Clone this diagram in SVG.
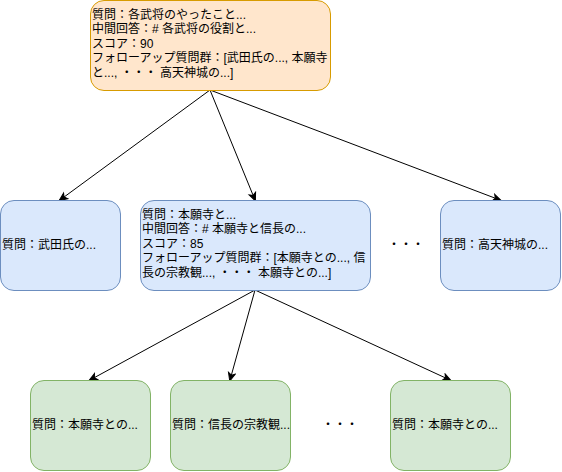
<svg xmlns="http://www.w3.org/2000/svg" width="562" height="472" viewBox="0 0 562 472">
<defs>
<marker id="arr" markerWidth="10" markerHeight="10" refX="8" refY="5" orient="auto" markerUnits="userSpaceOnUse">
<path d="M1,1.5 L9,5 L1,8.5 L3,5 Z" fill="#000" stroke="#000" stroke-width="1"/>
</marker>
</defs>
<style>
text{font-family:"Liberation Sans","Noto Sans CJK JP",sans-serif;font-size:12px;fill:#000}
.o{fill:#ffe6cc;stroke:#d79b00;stroke-width:1}
.b{fill:#dae8fc;stroke:#6c8ebf;stroke-width:1}
.g{fill:#d5e8d4;stroke:#82b366;stroke-width:1}
.e{fill:none;stroke:#000;stroke-width:1;marker-end:url(#arr)}
</style>
<rect width="562" height="472" fill="#fff"/>
<g id="edges">
<line class="e" x1="210" y1="90" x2="60" y2="200"/>
<line class="e" x1="210" y1="90" x2="255" y2="200"/>
<line class="e" x1="210" y1="90" x2="500" y2="200"/>
<line class="e" x1="255" y1="290" x2="90" y2="380"/>
<line class="e" x1="255" y1="290" x2="230" y2="380"/>
<line class="e" x1="255" y1="290" x2="450" y2="380"/>
</g>
<g id="root">
<rect class="o" x="90.5" y="0.5" width="240" height="90" rx="13.5"/>
<text x="92" y="19">質問：各武将のやったこと...</text>
<text x="92" y="33.4">中間回答：# 各武将の役割と...</text>
<text x="92" y="47.8">スコア：90</text>
<text x="92" y="62.2">フォローアップ質問群：[武田氏の..., 本願寺</text>
<text x="92" y="76.6">と..., ・・・ 高天神城の...]</text>
</g>
<g id="n1">
<rect class="b" x="0.5" y="200.5" width="120" height="90" rx="13.5"/>
<text x="2" y="249">質問：武田氏の...</text>
</g>
<g id="n2">
<rect class="b" x="140.5" y="200.5" width="230" height="90" rx="13.5"/>
<text x="142" y="219">質問：本願寺と...</text>
<text x="142" y="233.4">中間回答：# 本願寺と信長の...</text>
<text x="142" y="247.8">スコア：85</text>
<text x="142" y="262.2">フォローアップ質問群：[本願寺との..., 信</text>
<text x="142" y="276.6">長の宗教観..., ・・・ 本願寺との...]</text>
</g>
<g id="dots1"><text x="406" y="249" text-anchor="middle">・・・</text></g>
<g id="n3">
<rect class="b" x="440.5" y="200.5" width="120" height="90" rx="13.5"/>
<text x="442" y="249">質問：高天神城の...</text>
</g>
<g id="c1">
<rect class="g" x="30.5" y="380.5" width="120" height="90" rx="13.5"/>
<text x="32" y="429">質問：本願寺との...</text>
</g>
<g id="c2">
<rect class="g" x="170.5" y="380.5" width="120" height="90" rx="13.5"/>
<text x="172" y="429">質問：信長の宗教観...</text>
</g>
<g id="dots2"><text x="340" y="429" text-anchor="middle">・・・</text></g>
<g id="c3">
<rect class="g" x="390.5" y="380.5" width="120" height="90" rx="13.5"/>
<text x="392" y="429">質問：本願寺との...</text>
</g>
</svg>
